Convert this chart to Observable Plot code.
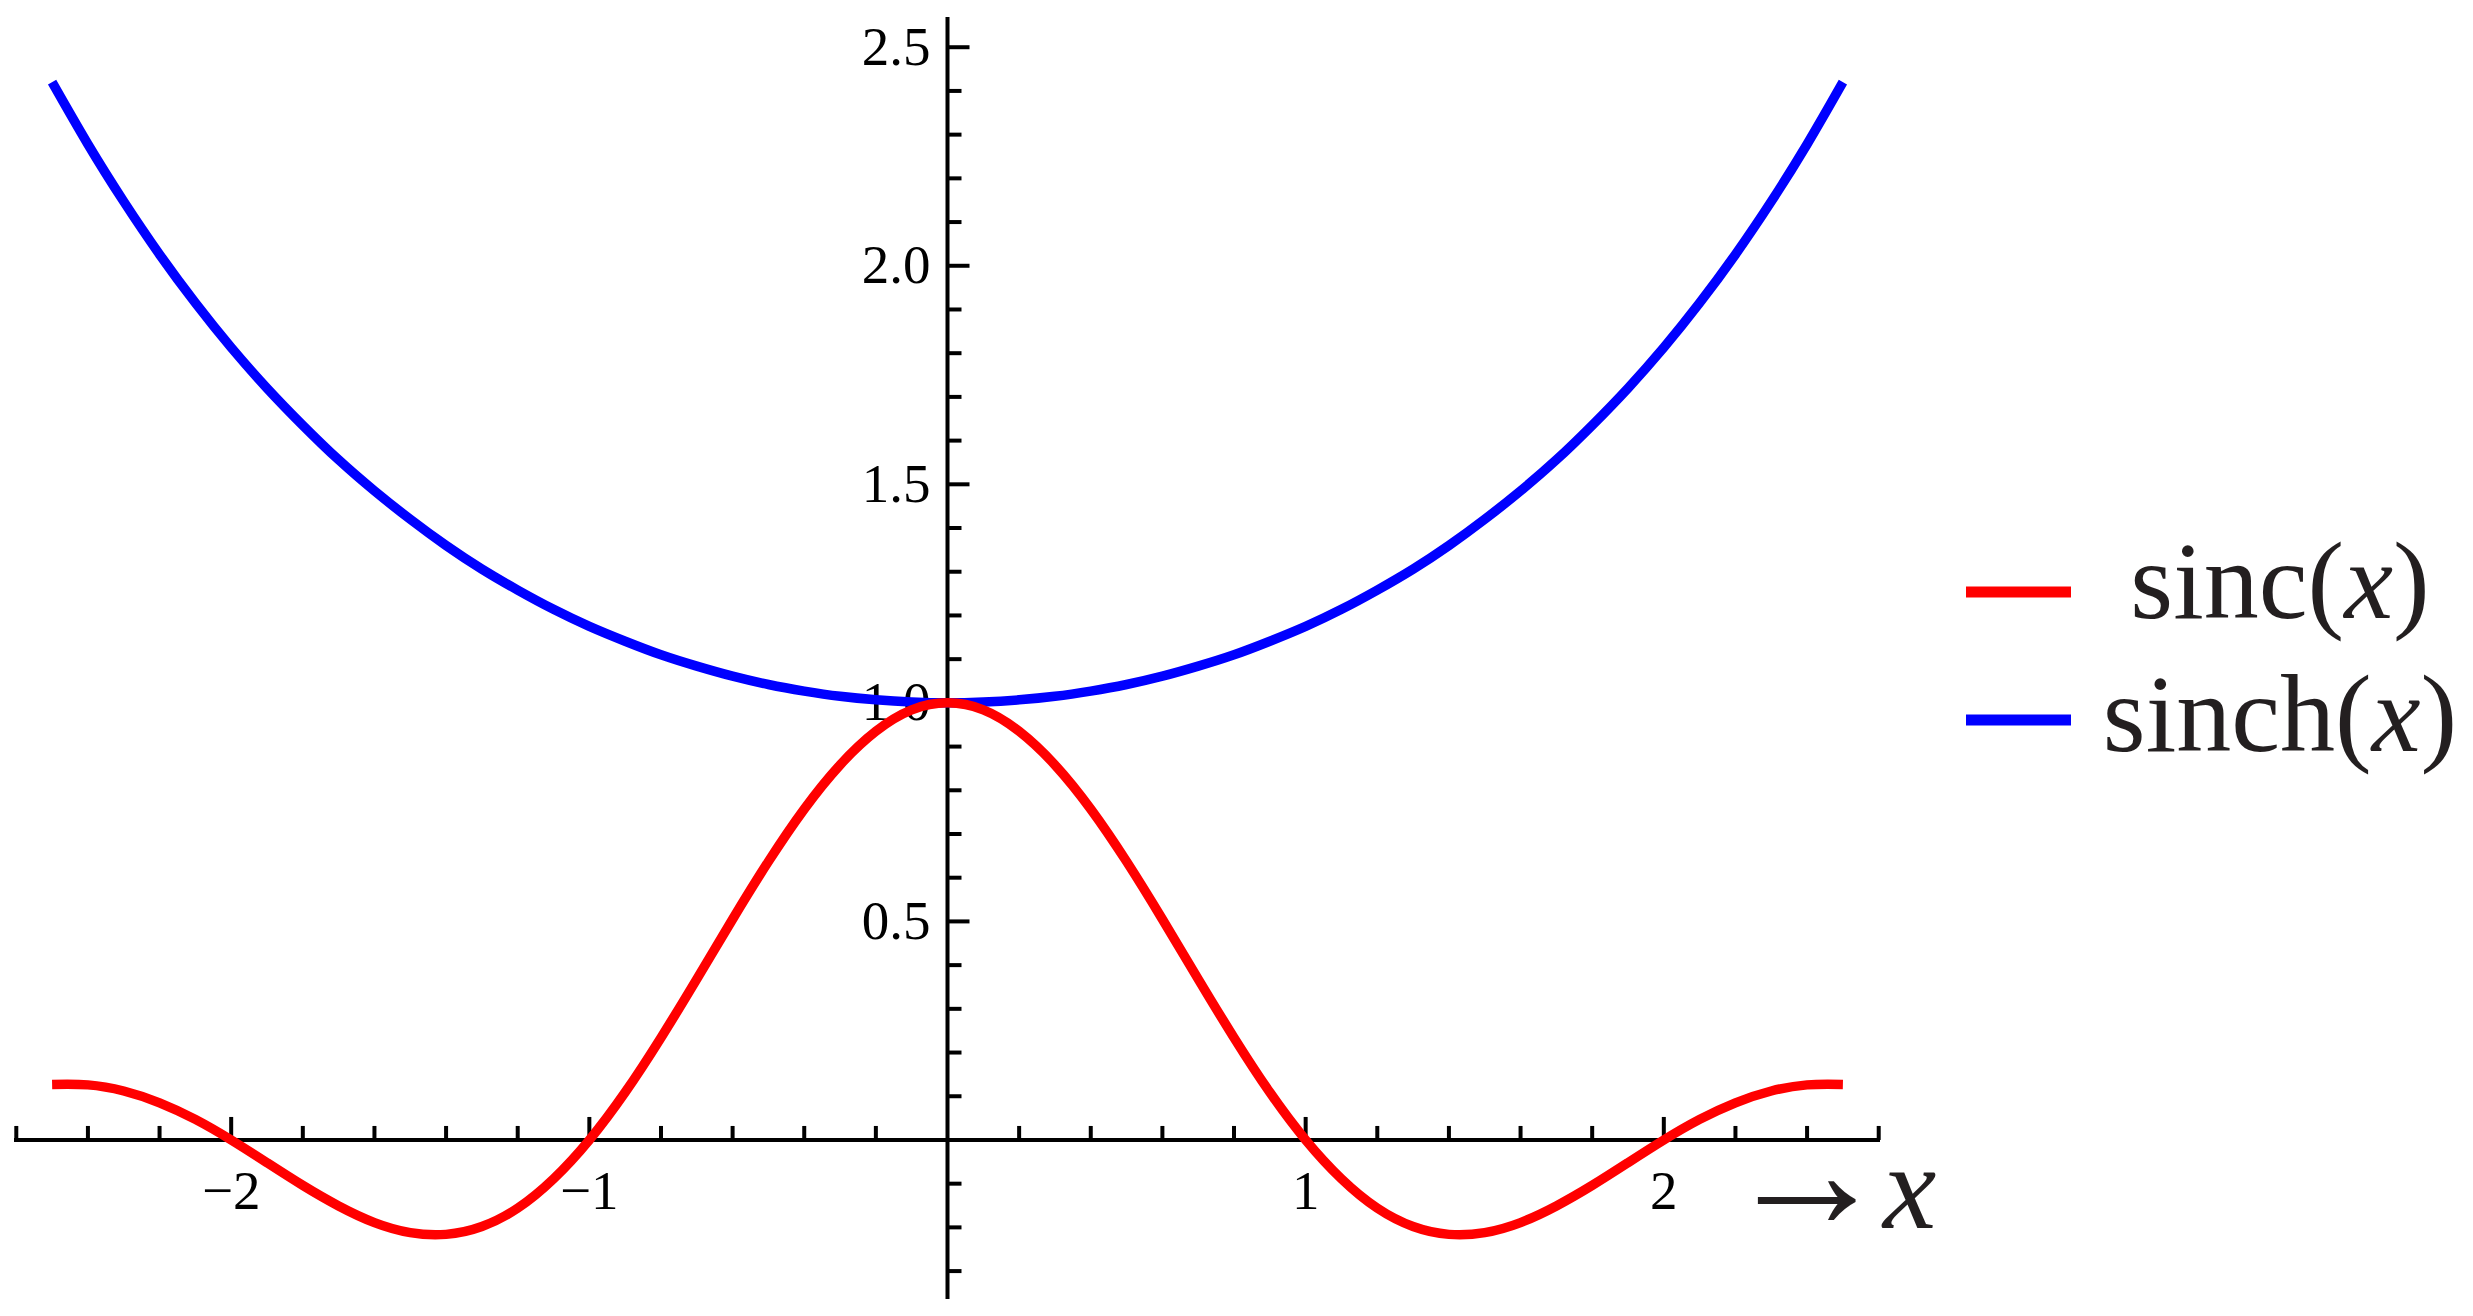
<!DOCTYPE html>
<html>
<head>
<meta charset="utf-8">
<script src="https://cdn.jsdelivr.net/npm/d3@7"></script>
<script src="https://cdn.jsdelivr.net/npm/@observablehq/plot@0.6"></script>
<style>
  html, body { margin: 0; padding: 0; background: #ffffff; }
  svg { display: block; }
</style>
</head>
<body>
<div id="chart"></div>
<script>
// x samples
const xs = [-2.5,-2.4,-2.3,-2.2,-2.1,-2.0,-1.9,-1.8,-1.7,-1.6,-1.5,-1.4,-1.3,-1.2,-1.1,-1.0,-0.9,-0.8,-0.7,-0.6,-0.5,-0.4,-0.3,-0.2,-0.1,0,
            0.1,0.2,0.3,0.4,0.5,0.6,0.7,0.8,0.9,1.0,1.1,1.2,1.3,1.4,1.5,1.6,1.7,1.8,1.9,2.0,2.1,2.2,2.3,2.4,2.5];
// sinc(x) values
const sincValues = [0.127,0.126,0.112,0.085,0.047,0.000,-0.052,-0.104,-0.151,-0.189,-0.212,-0.216,-0.198,-0.156,-0.089,0.000,0.109,0.234,0.368,0.505,0.637,0.757,0.858,0.935,0.984,1.000,
                    0.984,0.935,0.858,0.757,0.637,0.505,0.368,0.234,0.109,0.000,-0.089,-0.156,-0.198,-0.216,-0.212,-0.189,-0.151,-0.104,-0.052,0.000,0.047,0.085,0.112,0.126,0.127];
// sinch(x) values
const sinchValues = [2.420,2.278,2.147,2.026,1.915,1.813,1.720,1.635,1.556,1.485,1.420,1.360,1.306,1.258,1.214,1.175,1.141,1.110,1.084,1.061,1.042,1.027,1.015,1.007,1.002,1.000,
                     1.002,1.007,1.015,1.027,1.042,1.061,1.084,1.110,1.141,1.175,1.214,1.258,1.306,1.360,1.420,1.485,1.556,1.635,1.720,1.813,1.915,2.026,2.147,2.278,2.420];

const seriesNames = ["sinc", "sinch"];
const seriesColors = ["#ff0000", "#0000ff"];

// ticks
const xMajorTicks = [-2, -1, 1, 2];
const xMinorTicks = [-2.6,-2.4,-2.2,-1.8,-1.6,-1.4,-1.2,-0.8,-0.6,-0.4,-0.2,0.2,0.4,0.6,0.8,1.2,1.4,1.6,1.8,2.2,2.4,2.6];
const yMajorTicks = [0.5, 1.0, 1.5, 2.0, 2.5];
const yMinorTicks = [-0.3,-0.2,-0.1,0.1,0.2,0.3,0.4,0.6,0.7,0.8,0.9,1.1,1.2,1.3,1.4,1.6,1.7,1.8,1.9,2.1,2.2,2.3,2.4];

const sincData = xs.map((x, i) => ({x, y: sincValues[i]}));
const sinchData = xs.map((x, i) => ({x, y: sinchValues[i]}));

const serif = "'Liberation Serif', 'Times New Roman', serif";

// custom tick symbols (length = r px)
const upTick = { draw(ctx, size) { const l = Math.sqrt(size / Math.PI); ctx.moveTo(0, 0); ctx.lineTo(0, -l); } };
const rightTick = { draw(ctx, size) { const l = Math.sqrt(size / Math.PI); ctx.moveTo(0, 0); ctx.lineTo(l, 0); } };

const fmtX = d => d < 0 ? "\u2212" + (-d) : String(d);
const fmtY = d => d.toFixed(1);

const plot = Plot.plot({
  width: 2473,
  height: 1316,
  marginLeft: 14,
  marginRight: 593,
  marginTop: 17,
  marginBottom: 17,
  x: { domain: [-2.605, 2.605], axis: null },
  y: { domain: [-0.365, 2.568], axis: null },
  style: { background: "#ffffff", fontFamily: serif },
  marks: [
    Plot.ruleY([0], { stroke: "#000", strokeWidth: 4 }),
    Plot.ruleX([0], { stroke: "#000", strokeWidth: 4 }),
    Plot.dot(xMinorTicks, { x: d => d, y: 0, r: 14, symbol: upTick, stroke: "#000", fill: "none", strokeWidth: 4, strokeLinecap: "butt" }),
    Plot.dot(xMajorTicks, { x: d => d, y: 0, r: 23, symbol: upTick, stroke: "#000", fill: "none", strokeWidth: 4, strokeLinecap: "butt" }),
    Plot.dot(yMinorTicks, { x: 0, y: d => d, r: 14, symbol: rightTick, stroke: "#000", fill: "none", strokeWidth: 4, strokeLinecap: "butt" }),
    Plot.dot(yMajorTicks, { x: 0, y: d => d, r: 22, symbol: rightTick, stroke: "#000", fill: "none", strokeWidth: 4, strokeLinecap: "butt" }),
    Plot.text(xMajorTicks, { x: d => d, y: 0, text: fmtX, dy: 51, fontSize: 55, fontFamily: serif, fill: "#000", lineAnchor: "middle" }),
    Plot.text(yMajorTicks, { x: 0, y: d => d, text: fmtY, dx: -17, textAnchor: "end", fontSize: 55, fontFamily: serif, fill: "#000", lineAnchor: "middle" }),
    Plot.line(sinchData, { x: "x", y: "y", stroke: seriesColors[1], strokeWidth: 9.5, curve: "natural", strokeLinecap: "butt" }),
    Plot.line(sincData, { x: "x", y: "y", stroke: seriesColors[0], strokeWidth: 9.5, curve: "natural", strokeLinecap: "butt" })
  ]
});

document.getElementById("chart").appendChild(plot);

const svg = d3.select(plot);

// axis label "→ x"
const lab = svg.append("text")
  .attr("x", 1724).attr("y", 1228)
  .attr("text-anchor", "start")
  .attr("font-family", serif).attr("font-size", 120).attr("fill", "#231f20");
lab.append("tspan").attr("font-size", 165).text("\u2192");
lab.append("tspan").attr("dx", -6).attr("font-style", "italic").text("x");

// legend
const legendY = [592, 720];
const legendBase = [618, 751];
seriesNames.forEach((name, i) => {
  svg.append("line")
    .attr("x1", 1966).attr("x2", 2071)
    .attr("y1", legendY[i]).attr("y2", legendY[i])
    .attr("stroke", seriesColors[i]).attr("stroke-width", 11);
  const t = svg.append("text")
    .attr("x", 2280).attr("y", legendBase[i])
    .attr("text-anchor", "middle")
    .attr("font-family", serif).attr("font-size", 110).attr("fill", "#231f20");
  t.append("tspan").text(name + "(");
  t.append("tspan").attr("font-style", "italic").text("x");
  t.append("tspan").text(")");
});
</script>
</body>
</html>
